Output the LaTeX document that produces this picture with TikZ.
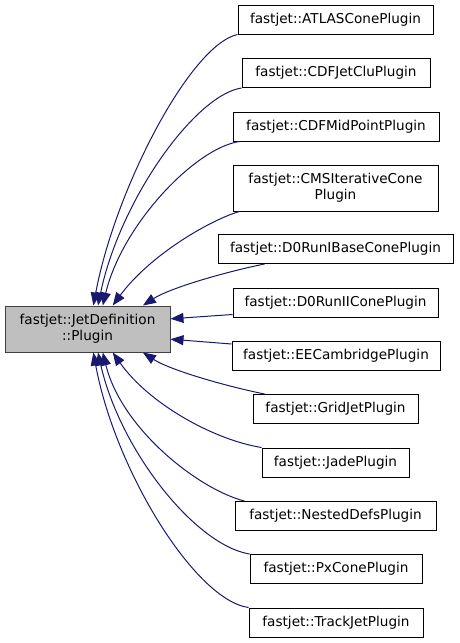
\documentclass[tikz,border=0pt]{standalone}
\usepackage{fontspec}
\setmainfont{DejaVu Sans}
\usepackage{tikz}
\usetikzlibrary{arrows.meta,calc}
\definecolor{azulNoche}{RGB}{25,25,112}
\definecolor{grisBase}{RGB}{191,191,191}
\definecolor{grisBorde}{RGB}{64,64,64}
\tikzstyle{edge}=[azulNoche, line width=1pt,
                  -{Triangle[length=13pt,width=10pt]}]
\tikzstyle{clase}=[rectangle, draw=black, line width=1pt,
                   fill=white, align=center, inner sep=2pt,
                   minimum height=29pt,
                   font=\fontsize{13.6}{16}\selectfont]
\tikzstyle{clasebase}=[clase, fill=grisBase, draw=grisBorde,
                       minimum height=46pt]

\begin{document}
\begin{tikzpicture}[x=1pt,y=-1pt]
    \useasboundingbox (0,0) rectangle (459,643);

    \draw (87.5,329) node(plugin)[clasebase,minimum width=165pt]{fastjet::JetDefinition\\::Plugin};

    \draw (335.5,19.5) node(atlas)[clase,minimum width=195pt]{fastjet::ATLASConePlugin};
    \draw (336,73) node(cdfclu)[clase,minimum width=188pt]{fastjet::CDFJetCluPlugin};
    \draw (336,126.5) node(cdfmid)[clase,minimum width=206pt]{fastjet::CDFMidPointPlugin};
    \draw (335.5,188) node(cms)[clase,minimum width=205pt,minimum height=46pt]{fastjet::CMSIterativeCone\\Plugin};
    \draw (335.5,249) node(d0base)[clase,minimum width=235pt]{fastjet::D0RunIBaseConePlugin};
    \draw (335.5,302.5) node(d0two)[clase,minimum width=205pt]{fastjet::D0RunIIConePlugin};
    \draw (336,356) node(eecam)[clase,minimum width=208pt]{fastjet::EECambridgePlugin};
    \draw (335.5,409) node(gridjet)[clase,minimum width=165pt]{fastjet::GridJetPlugin};
    \draw (335.5,462.5) node(jade)[clase,minimum width=147pt]{fastjet::JadePlugin};
    \draw (335.5,516) node(nested)[clase,minimum width=201pt]{fastjet::NestedDefsPlugin};
    \draw (336,569) node(pxcone)[clase,minimum width=172pt]{fastjet::PxConePlugin};
    \draw (336,622.5) node(trackjet)[clase,minimum width=174pt]{fastjet::TrackJetPlugin};

    \draw [edge] (atlas.south west) .. controls (190,45) and (115,190) .. (plugin.76.6);
    \draw [edge] (cdfclu.south west) .. controls (195,95) and (120,200) .. (plugin.66);
    \draw [edge] ($(cdfmid.south west)+(7,0)$) .. controls (195,148) and (122,225) .. (plugin.57);
    \draw [edge] ($(cms.south west)+(7,0)$) .. controls (210,220) and (150,255) .. (plugin.43);
    \draw [edge] ($(d0base.south west)+(47,0)$) .. controls (225,272) and (170,288) .. (plugin.23);
    \draw [edge] ($(d0two.south west)+(0,-3)$) -- (plugin.7.6);
    \draw [edge] ($(eecam.north west)+(0,3)$) -- (plugin.-7.6);
    \draw [edge] ($(gridjet.north west)+(12,0)$) .. controls (225,386) and (170,370) .. (plugin.-23);
    \draw [edge] (jade.north west) .. controls (215,440) and (150,405) .. (plugin.-43);
    \draw [edge] ($(nested.north west)+(10,0)$) .. controls (200,490) and (122,430) .. (plugin.-57);
    \draw [edge] (pxcone.north west) .. controls (195,545) and (120,450) .. (plugin.-66);
    \draw [edge] (trackjet.north west) .. controls (195,600) and (115,470) .. (plugin.-76.6);
\end{tikzpicture}
\end{document}
